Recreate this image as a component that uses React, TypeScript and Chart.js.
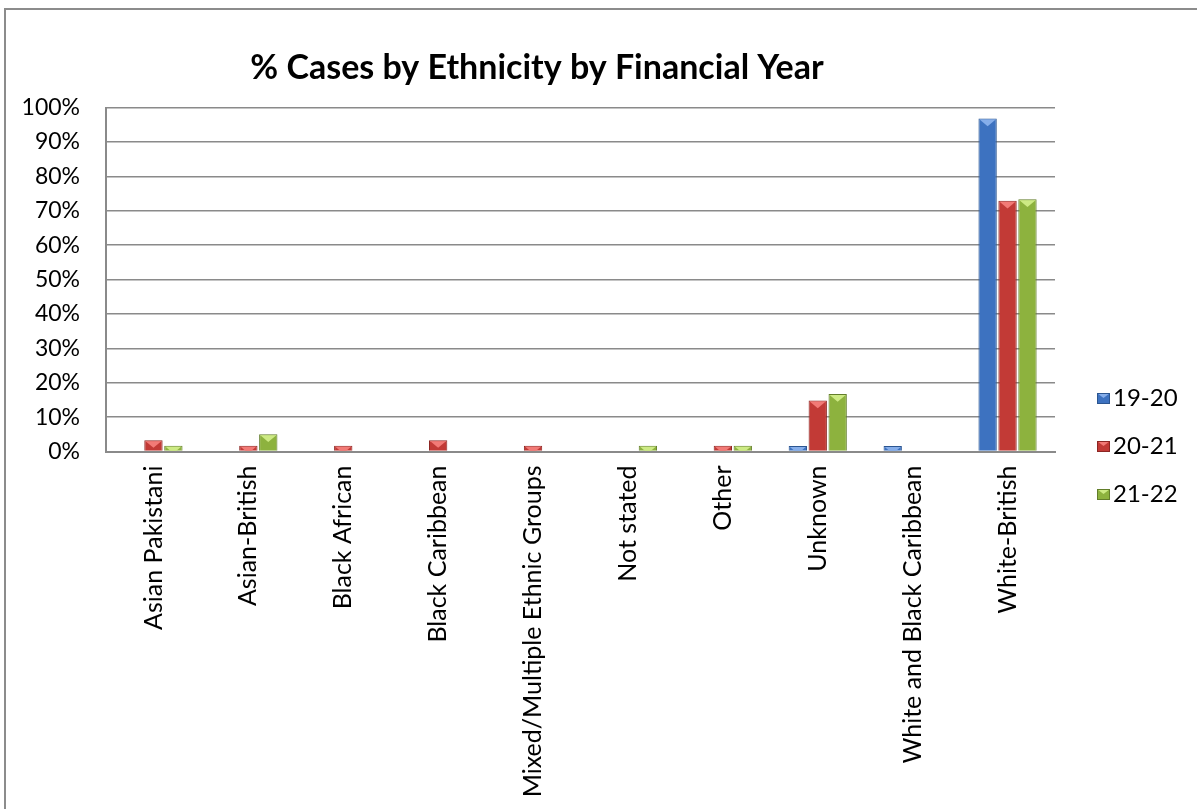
import React, { useEffect, useRef } from "react";
import { Chart, registerables } from "chart.js";

Chart.register(...registerables);

const chartTitle = "% Cases by Ethnicity by Financial Year";
const categories = [
  "Asian Pakistani",
  "Asian-British",
  "Black African",
  "Black Caribbean",
  "Mixed/Multiple Ethnic Groups",
  "Not stated",
  "Other",
  "Unknown",
  "White and Black Caribbean",
  "White-British",
];
const seriesNames = ["19-20", "20-21", "21-22"];
const fy1920 = [0, 0, 0, 0, 0, 0, 0, 1.6, 1.6, 96.8];
const fy2021 = [3.3, 1.7, 1.7, 3.3, 1.7, 0, 1.7, 14.8, 0, 72.9];
const fy2122 = [1.7, 5.0, 0, 0, 0, 1.7, 1.7, 16.7, 0, 73.3];
const yTickValues = [0, 10, 20, 30, 40, 50, 60, 70, 80, 90, 100];

const fills = ["#3d72c0", "#c23a36", "#8db23e"];
const edges = ["#2b5590", "#8c2623", "#627d2a"];
const lights = ["#86aeea", "#f27a76", "#cdea84"];

const FONT = "Lato, 'Liberation Sans', sans-serif";

const decor = {
  id: "decor",
  afterDatasetsDraw(chart: any) {
    const ctx = chart.ctx;
    chart.data.datasets.forEach((ds: any, di: number) => {
      const meta = chart.getDatasetMeta(di);
      meta.data.forEach((bar: any) => {
        const h = bar.base - bar.y;
        if (h <= 0.5) return;
        const w = bar.width;
        const l = bar.x - w / 2;
        const r = bar.x + w / 2;
        ctx.save();
        ctx.beginPath();
        ctx.rect(l + 1, bar.y + 1, w - 2, h - 1);
        ctx.clip();
        ctx.fillStyle = lights[di];
        ctx.beginPath();
        ctx.moveTo(l, bar.y);
        ctx.lineTo(r, bar.y);
        ctx.lineTo(bar.x, bar.y + w * 0.42);
        ctx.closePath();
        ctx.fill();
        ctx.restore();
      });
    });
  },
  afterDraw(chart: any) {
    const ctx = chart.ctx;
    ctx.save();
    ctx.fillStyle = "#000";
    ctx.font = `bold 34px ${FONT}`;
    ctx.textAlign = "center";
    ctx.textBaseline = "middle";
    ctx.fillText(chartTitle, 537, 68);
    ctx.font = `24px ${FONT}`;
    ctx.textAlign = "left";
    seriesNames.forEach((name, i) => {
      const cy = 398 + i * 48;
      ctx.fillStyle = fills[i];
      ctx.fillRect(1097, cy - 5, 13, 11);
      ctx.fillStyle = lights[i];
      ctx.beginPath();
      ctx.moveTo(1097, cy - 5);
      ctx.lineTo(1110, cy - 5);
      ctx.lineTo(1103.5, cy);
      ctx.closePath();
      ctx.fill();
      ctx.strokeStyle = edges[i];
      ctx.lineWidth = 1;
      ctx.strokeRect(1097.5, cy - 4.5, 12, 10);
      ctx.fillStyle = "#000";
      ctx.fillText(name, 1113, cy);
    });
    ctx.restore();
  },
};

export default function App() {
  const ref = useRef<HTMLCanvasElement>(null);
  useEffect(() => {
    if (!ref.current) return;
    const data = [fy1920, fy2021, fy2122];
    const chart = new Chart(ref.current, {
      type: "bar",
      data: {
        labels: categories,
        datasets: seriesNames.map((name, i) => ({
          label: name,
          data: data[i],
          backgroundColor: fills[i],
          borderColor: edges[i],
          borderWidth: 1,
          categoryPercentage: 0.63,
          barPercentage: 0.92,
        })),
      },
      options: {
        responsive: false,
        animation: false,
        layout: { padding: { top: 107.5, right: 142, bottom: 0, left: 0 } },
        plugins: {
          legend: { display: false },
          title: { display: false },
          tooltip: { enabled: false },
        },
        scales: {
          x: {
            afterFit: (s: any) => {
              s.height = 809 - 451.5;
            },
            grid: { display: false, drawTicks: false },
            border: { display: true, color: "#8a8a8a", width: 2 },
            ticks: {
              autoSkip: false,
              minRotation: 90,
              maxRotation: 90,
              padding: 14,
              color: "#000",
              font: { family: FONT, size: 25 },
            },
          },
          y: {
            min: 0,
            max: 100,
            afterFit: (s: any) => {
              s.width = 106;
            },
            afterBuildTicks: (s: any) => {
              s.ticks = yTickValues.map((v) => ({ value: v }));
            },
            grid: { color: "#8a8a8a", lineWidth: 1.5, drawTicks: false },
            border: { display: true, color: "#8a8a8a", width: 2 },
            ticks: {
              padding: 26,
              color: "#000",
              font: { family: FONT, size: 23 },
              callback: (v: any) => `${v}%`,
            },
          },
        },
      },
      plugins: [decor],
    });
    return () => chart.destroy();
  }, []);
  return (
    <div
      style={{
        position: "fixed",
        left: 0,
        top: 0,
        width: 1197,
        height: 809,
        overflow: "hidden",
        background: "#fff",
      }}
    >
      <div
        style={{
          position: "absolute",
          left: 4,
          top: 8,
          width: 1300,
          height: 900,
          border: "2px solid #8c8c8c",
        }}
      />
      <canvas
        ref={ref}
        width={1197}
        height={809}
        style={{ position: "absolute", left: 0, top: 0 }}
      />
    </div>
  );
}
